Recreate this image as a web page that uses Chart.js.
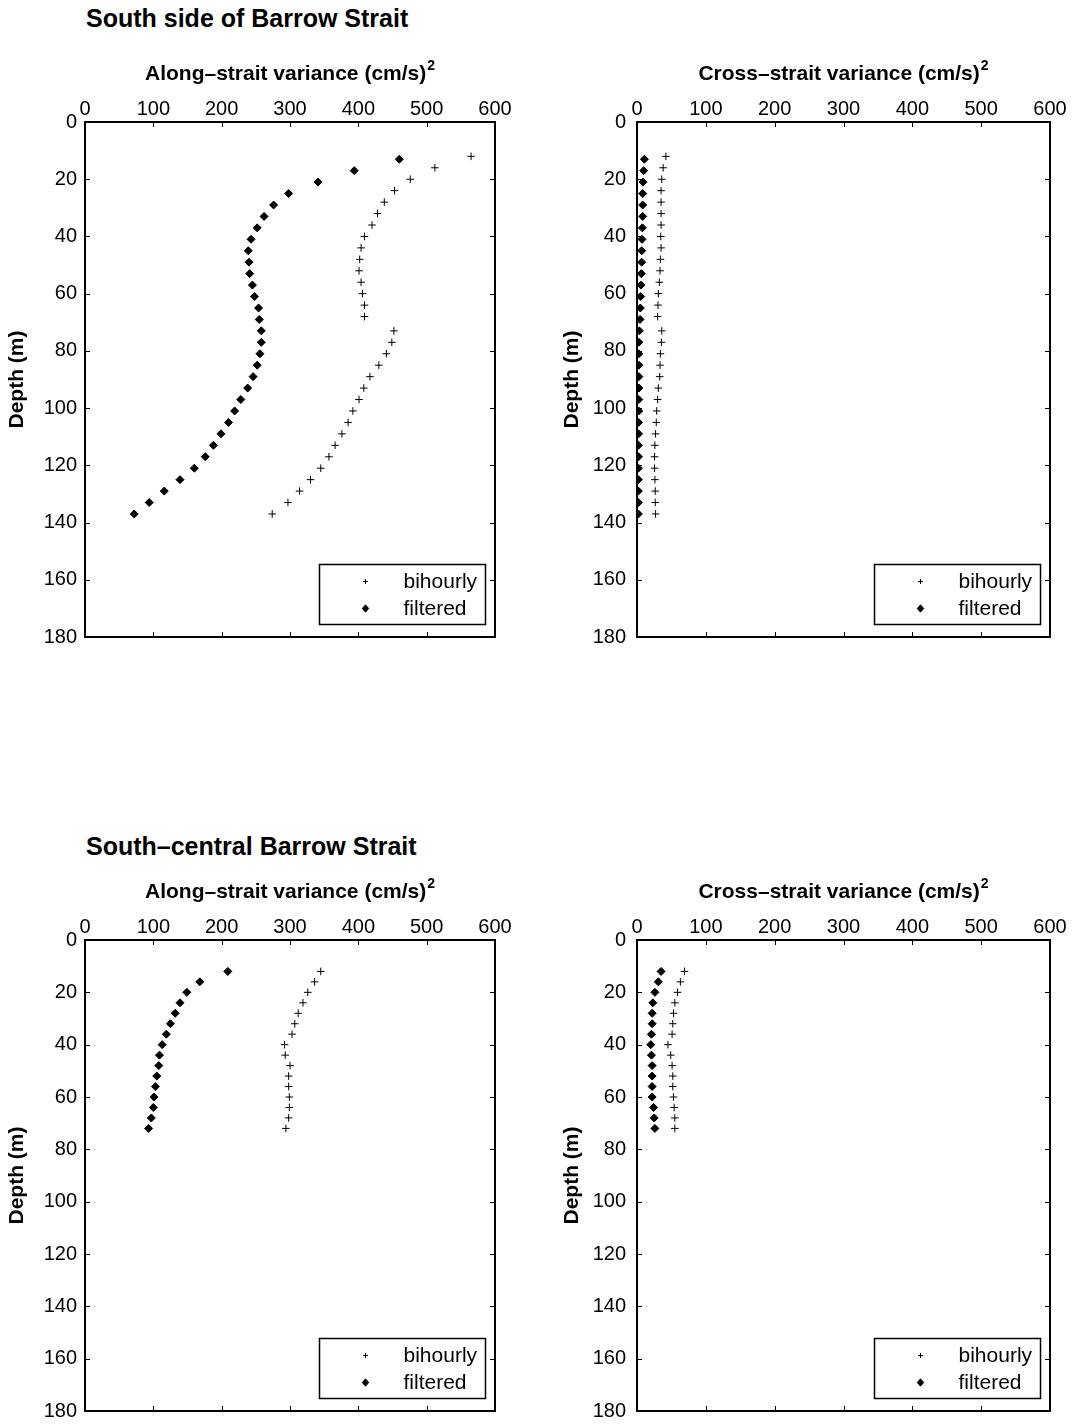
<!DOCTYPE html>
<html lang="en">
<head>
    <meta charset="UTF-8">
    <title>Barrow Strait velocity variance</title>
    <script src="https://cdn.jsdelivr.net/npm/chart.js"></script>
    <style>
        body {
            margin: 0;
            background: #fff;
        }

        #page {
            position: relative;
            width: 1076px;
            height: 1425px;
            font-family: "Liberation Sans", Arial, Helvetica, sans-serif;
            color: #000;
        }

        .panel {
            position: absolute;
        }

        .title {
            position: absolute;
            left: 86px;
            font-size: 25px;
            line-height: 25px;
            font-weight: bold;
            white-space: nowrap;
        }
    </style>
</head>
<body>
<div id="page">
    <div class="title" style="top:6px">South side of Barrow Strait</div>
    <canvas class="panel" id="alongS" width="540" height="620" style="left:0;top:40px"></canvas>
    <canvas class="panel" id="crossS" width="524" height="620" style="left:552px;top:40px"></canvas>

    <div class="title" style="top:834px">South&#8211;central Barrow Strait</div>
    <canvas class="panel" id="alongSC" width="540" height="567" style="left:0;top:858px"></canvas>
    <canvas class="panel" id="crossSC" width="524" height="567" style="left:552px;top:858px"></canvas>
</div>

<script>
    // axis ticks
    const varianceTicks = [0, 100, 200, 300, 400, 500, 600];
    const depthTicks = [0, 20, 40, 60, 80, 100, 120, 140, 160, 180];

    // South side of Barrow Strait (depth in m)
    const depthBihourlyS = [12, 16, 20, 24, 28, 32, 36, 40, 44, 48, 52, 56, 60, 64, 68,
        73, 77, 81, 85, 89, 93, 97, 101, 105, 109, 113, 117, 121, 125, 129, 133, 137];
    const depthFilteredS = [13, 17, 21, 25, 29, 33, 37, 41, 45, 49, 53, 57, 61, 65, 69,
        73, 77, 81, 85, 89, 93, 97, 101, 105, 109, 113, 117, 121, 125, 129, 133, 137];
    const alongBihourlyS = [565, 512, 476, 453, 438, 428, 420, 409, 404, 402, 401, 404, 406, 409, 409,
        452, 449, 441, 430, 417, 408, 401, 392, 385, 376, 366, 357, 345, 330, 314, 297, 274];
    const alongFilteredS = [460, 394, 341, 298, 276, 262, 252, 243, 239, 240, 241, 245, 248, 254, 255,
        258, 258, 256, 252, 246, 238, 228, 219, 210, 199, 188, 176, 160, 139, 116, 94, 72];
    const crossBihourlyS = [42, 38, 36, 35, 35, 35, 35, 34.5, 35, 34, 33.5, 32.5, 31, 30.5, 30,
        36, 35.5, 34, 33.5, 33, 31, 30, 28.6, 28, 27, 26, 25.5, 25.5, 26, 26.5, 26.5, 27];
    const crossFilteredS = [10.7, 9.7, 8.7, 8.3, 8.3, 8.3, 7.8, 7.3, 6.8, 6.8, 6.3, 5.8, 5.3, 4.8, 4.4,
        3.4, 2.7, 2.7, 2.7, 2.7, 2.7, 2.5, 2.5, 2.3, 2.3, 2.2, 2.2, 2, 2, 2, 2, 2];

    // South-central Barrow Strait
    const depthSC = [12, 16, 20, 24, 28, 32, 36, 40, 44, 48, 52, 56, 60, 64, 68, 72];
    const alongBihourlySC = [345, 336, 326, 319, 312, 307, 303, 292, 293, 300, 298, 298, 299, 299, 298, 294];
    const alongFilteredSC = [209, 168, 149, 139, 132, 125, 119, 113, 109, 108, 105, 103, 101, 100, 97, 93];
    const crossBihourlySC = [69, 63, 59, 55, 53, 52, 51, 45, 49, 51, 52, 52, 53, 54, 55, 55];
    const crossFilteredSC = [35, 31, 26, 23, 22, 22, 21, 20, 21, 22, 22, 22, 22, 24, 25, 26];

    const FONT = '"Liberation Sans", Arial, Helvetica, sans-serif';
    Chart.defaults.font.family = FONT;
    Chart.defaults.color = '#000';

    function drawMarker(ctx, kind, x, y, r) {
        ctx.beginPath();
        if (kind === 'cross') {
            ctx.moveTo(x - r, y); ctx.lineTo(x + r, y);
            ctx.moveTo(x, y - r); ctx.lineTo(x, y + r);
            ctx.stroke();
        } else {
            ctx.moveTo(x, y - r * 1.15); ctx.lineTo(x + r, y);
            ctx.lineTo(x, y + r * 1.15); ctx.lineTo(x - r, y);
            ctx.closePath();
            ctx.fill();
            ctx.stroke();
        }
    }

    // box with inward ticks on all four sides, x title with superscript, boxed legend
    const matlabAxes = {
        id: 'matlabAxes',
        afterDraw(chart, args, opts) {
            const {ctx, chartArea: a, scales} = chart;
            const tl = 5;
            ctx.save();
            ctx.strokeStyle = '#000';
            ctx.fillStyle = '#000';
            ctx.lineWidth = 1;
            ctx.beginPath();
            scales.x.ticks.forEach((t, i) => {
                const px = Math.round(scales.x.getPixelForTick(i)) + 0.5;
                ctx.moveTo(px, a.top); ctx.lineTo(px, a.top + tl);
                ctx.moveTo(px, a.bottom); ctx.lineTo(px, a.bottom - tl);
            });
            scales.y.ticks.forEach((t, i) => {
                const py = Math.round(scales.y.getPixelForTick(i)) + 0.5;
                ctx.moveTo(a.left, py); ctx.lineTo(a.left + tl, py);
                ctx.moveTo(a.right, py); ctx.lineTo(a.right - tl, py);
            });
            ctx.stroke();
            ctx.lineWidth = 2;
            ctx.strokeRect(a.left, a.top, a.right - a.left, a.bottom - a.top);

            // x axis title: "... (cm/s)" with a raised 2
            ctx.textBaseline = 'alphabetic';
            ctx.textAlign = 'left';
            ctx.font = 'bold 21px ' + FONT;
            const w1 = ctx.measureText(opts.xTitle).width;
            ctx.font = 'bold 14px ' + FONT;
            const w2 = ctx.measureText('2').width;
            const tx = (a.left + a.right) / 2 - (w1 + w2 + 1) / 2;
            const base = a.top - 42;
            ctx.fillStyle = '#000';
            ctx.font = 'bold 21px ' + FONT;
            ctx.fillText(opts.xTitle, tx, base);
            ctx.font = 'bold 14px ' + FONT;
            ctx.fillText('2', tx + w1 + 1, base - 10);

            // legend
            const bw = 166, bh = 60;
            const bx = Math.round(a.right - 10 - bw) + 0.5;
            const by = Math.round(a.bottom - 13 - bh) + 0.5;
            ctx.fillStyle = '#fff';
            ctx.fillRect(bx, by, bw, bh);
            ctx.lineWidth = 1.5;
            ctx.strokeRect(bx, by, bw, bh);
            ctx.font = '21px ' + FONT;
            ctx.textBaseline = 'middle';
            ctx.textAlign = 'left';
            chart.data.datasets.forEach((ds, i) => {
                const ly = by + 17 + i * 27;
                const isCross = ds.pointStyle === 'cross';
                ctx.fillStyle = '#000';
                ctx.lineWidth = 1;
                drawMarker(ctx, isCross ? 'cross' : 'diamond', bx + 46, ly, isCross ? 2.5 : 3.2);
                ctx.fillText(ds.label, bx + 84, ly + 1);
            });
            ctx.restore();
        }
    };

    function makePanel(id, xTitle, bi, filt, depthBi, depthFilt, pad, yLabelPad, yTitlePad) {
        const pts = (xs, ys) => xs.map((v, i) => ({x: v, y: ys[i]}));
        return new Chart(document.getElementById(id), {
            type: 'scatter',
            data: {
                datasets: [
                    {
                        label: 'bihourly',
                        data: pts(bi, depthBi),
                        pointStyle: 'cross',
                        pointRadius: 3.8,
                        borderWidth: 1,
                        borderColor: '#000',
                        backgroundColor: '#000'
                    },
                    {
                        label: 'filtered',
                        data: pts(filt, depthFilt),
                        pointStyle: 'rectRot',
                        pointRadius: 4,
                        borderWidth: 1,
                        borderColor: '#000',
                        backgroundColor: '#000'
                    }
                ]
            },
            options: {
                responsive: false,
                animation: false,
                devicePixelRatio: 1,
                layout: {padding: {left: 0, top: 0, right: pad.right, bottom: pad.bottom}},
                plugins: {
                    legend: {display: false},
                    tooltip: {enabled: false},
                    matlabAxes: {xTitle: xTitle}
                },
                scales: {
                    x: {
                        type: 'linear',
                        position: 'top',
                        min: varianceTicks[0],
                        max: varianceTicks[varianceTicks.length - 1],
                        grid: {display: false, drawTicks: false},
                        border: {display: false},
                        afterBuildTicks: s => { s.ticks = varianceTicks.map(v => ({value: v})); },
                        afterFit: s => {
                            s.height = 82;
                            s.paddingLeft = 0;
                            s.paddingRight = 0;
                        },
                        ticks: {padding: 1, color: '#000', font: {size: 20}, maxRotation: 0, autoSkip: false}
                    },
                    y: {
                        type: 'linear',
                        reverse: true,
                        min: depthTicks[0],
                        max: depthTicks[depthTicks.length - 1],
                        grid: {display: false, drawTicks: false},
                        border: {display: false},
                        afterBuildTicks: s => { s.ticks = depthTicks.map(v => ({value: v})); },
                        afterFit: s => {
                            s.width = 85;
                            s.paddingTop = 0;
                            s.paddingBottom = 0;
                        },
                        ticks: {padding: yLabelPad, color: '#000', font: {size: 20}, autoSkip: false},
                        title: {
                            display: true,
                            text: 'Depth (m)',
                            color: '#000',
                            font: {size: 21, weight: 'bold'},
                            padding: {top: yTitlePad, bottom: 0}
                        }
                    }
                }
            },
            plugins: [matlabAxes]
        });
    }

    const along = 'Along\u2013strait variance (cm/s)';
    const cross = 'Cross\u2013strait variance (cm/s)';

    makePanel('alongS', along, alongBihourlyS, alongFilteredS, depthBihourlyS, depthFilteredS,
        {right: 45, bottom: 23}, 8, 5);
    makePanel('crossS', cross, crossBihourlyS, crossFilteredS, depthBihourlyS, depthFilteredS,
        {right: 26, bottom: 23}, 11, 8);
    makePanel('alongSC', along, alongBihourlySC, alongFilteredSC, depthSC, depthSC,
        {right: 45, bottom: 14}, 8, 5);
    makePanel('crossSC', cross, crossBihourlySC, crossFilteredSC, depthSC, depthSC,
        {right: 26, bottom: 14}, 11, 8);
</script>
</body>
</html>
